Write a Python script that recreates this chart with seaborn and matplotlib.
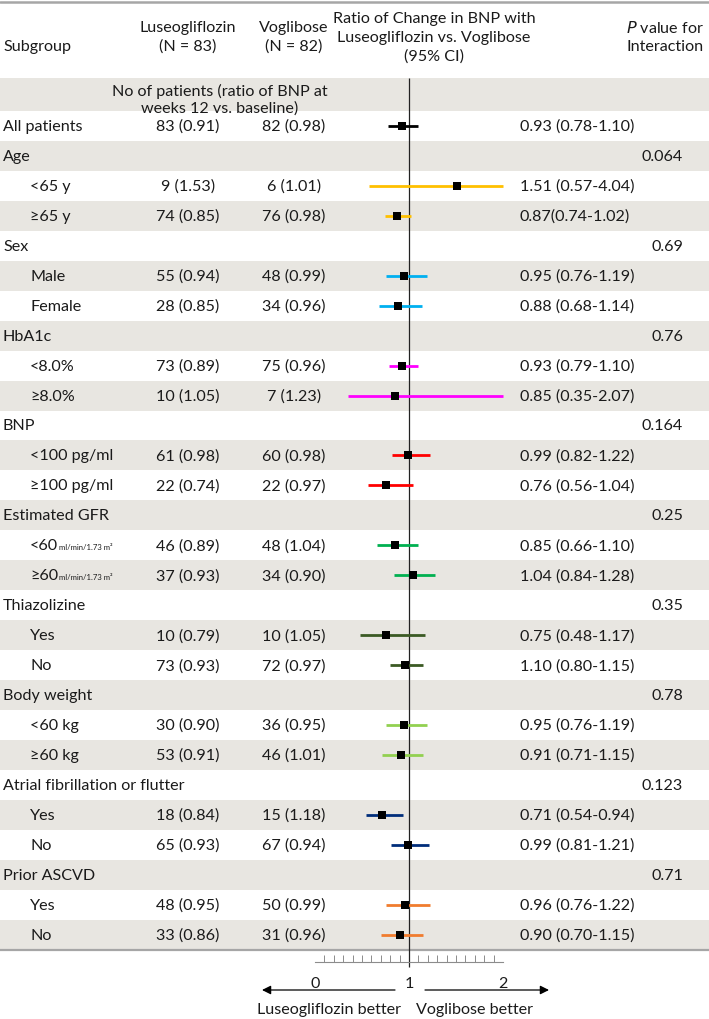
import matplotlib
matplotlib.use("Agg")
import matplotlib.pyplot as plt
import matplotlib.transforms as mtrans
import seaborn as sns
import pandas as pd
import numpy as np

# ---------------- data ----------------
row_labels = ["All patients", "Age", "<65 y", "≥65 y", "Sex", "Male", "Female",
              "HbA1c", "<8.0%", "≥8.0%", "BNP", "<100 pg/ml", "≥100 pg/ml",
              "Estimated GFR", "<60", "≥60", "Thiazolizine", "Yes", "No",
              "Body weight", "<60 kg", "≥60 kg", "Atrial fibrillation or flutter",
              "Yes", "No", "Prior ASCVD", "Yes", "No"]
group_rows = [1, 4, 7, 10, 13, 16, 19, 22, 25]
p_values = ["0.064", "0.69", "0.76", "0.164", "0.25", "0.35", "0.78", "0.123", "0.71"]

data_rows = [0, 2, 3, 5, 6, 8, 9, 11, 12, 14, 15, 17, 18, 20, 21, 23, 24, 26, 27]
luseo_n = [83, 9, 74, 55, 28, 73, 10, 61, 22, 46, 37, 10, 73, 30, 53, 18, 65, 48, 33]
luseo_r = ["0.91", "1.53", "0.85", "0.94", "0.85", "0.89", "1.05", "0.98", "0.74", "0.89",
           "0.93", "0.79", "0.93", "0.90", "0.91", "0.84", "0.93", "0.95", "0.86"]
vogli_n = [82, 6, 76, 48, 34, 75, 7, 60, 22, 48, 34, 10, 72, 36, 46, 15, 67, 50, 31]
vogli_r = ["0.98", "1.01", "0.98", "0.99", "0.96", "0.96", "1.23", "0.98", "0.97", "1.04",
           "0.90", "1.05", "0.97", "0.95", "1.01", "1.18", "0.94", "0.99", "0.96"]
est_text = ["0.93", "1.51", "0.87", "0.95", "0.88", "0.93", "0.85", "0.99", "0.76", "0.85",
            "1.04", "0.75", "1.10", "0.95", "0.91", "0.71", "0.99", "0.96", "0.90"]
est_plot = [0.93, 1.51, 0.87, 0.95, 0.88, 0.93, 0.85, 0.99, 0.76, 0.85,
            1.04, 0.75, 0.96, 0.95, 0.91, 0.71, 0.99, 0.96, 0.90]
ci_lo = [0.78, 0.57, 0.74, 0.76, 0.68, 0.79, 0.35, 0.82, 0.56, 0.66,
         0.84, 0.48, 0.80, 0.76, 0.71, 0.54, 0.81, 0.76, 0.70]
ci_hi = [1.10, 4.04, 1.02, 1.19, 1.14, 1.10, 2.07, 1.22, 1.04, 1.10,
         1.28, 1.17, 1.15, 1.19, 1.15, 0.94, 1.21, 1.22, 1.15]
ci_sep = [" ", " ", "", " ", " ", " ", " ", " ", " ", " ",
          " ", " ", " ", " ", " ", " ", " ", " ", " "]
row_colors = ["#000000", "#FFC000", "#FFC000", "#00B0F0", "#00B0F0", "#FF00FF", "#FF00FF",
              "#FF0000", "#FF0000", "#00B050", "#00B050", "#3B5A24", "#3B5A24",
              "#92D050", "#92D050", "#002D7A", "#002D7A", "#F07C2E", "#F07C2E"]
axis_ticks = [0, 1, 2]

# ---------------- layout ----------------
W, H = 709, 1020
PX_UNIT = 94.0      # pixels per ratio unit
X_ONE = 409.0       # pixel x of ratio = 1
ROW0 = 127.0        # pixel y of first row
ROWH = 29.95        # row height px

sns.set_theme(style="white")
plt.rcParams['font.family'] = ['Lato', 'DejaVu Sans']
TXT = "#1a1a1a"
FS = 11.6

fig = plt.figure(figsize=(W / 100, H / 100), dpi=100)
ax = fig.add_axes([0, 0, 1, 1])
ax.set_xlim(1 - X_ONE / PX_UNIT, 1 + (W - X_ONE) / PX_UNIT)
ax.set_ylim((H - ROW0) / ROWH, -ROW0 / ROWH)
ax.axis("off")

def py(pix):
    return (pix - ROW0) / ROWH

pix_x = mtrans.blended_transform_factory(
    mtrans.Affine2D().scale(1 / W, 1) + ax.transAxes, ax.transData)

# background bands
band = "#E8E6E1"
ax.axhspan(py(79), -0.5, color=band, lw=0, zorder=0)
for i in range(len(row_labels)):
    if i % 2 == 1:
        ax.axhspan(i - 0.5, i + 0.5, color=band, lw=0, zorder=0)

# top and bottom rules
ax.axhline(py(3), color="#A6A6A6", lw=1.8, zorder=1)
ax.axhline(len(row_labels) - 0.5, color="#A6A6A6", lw=1.6, zorder=1)

# reference line
ax.vlines(1, py(79), py(968), color="#222222", lw=0.9, zorder=2)

# header
hdr_kw = dict(transform=pix_x, fontsize=FS, color=TXT, va="center")
ax.text(3, py(47), "Subgroup", ha="left", **hdr_kw)
ax.text(188, py(28), "Luseogliflozin", ha="center", **hdr_kw)
ax.text(188, py(47), "(N = 83)", ha="center", **hdr_kw)
ax.text(294, py(28), "Voglibose", ha="center", **hdr_kw)
ax.text(294, py(47), "(N = 82)", ha="center", **hdr_kw)
ax.text(434, py(19), "Ratio of Change in BNP with", ha="center", **hdr_kw)
ax.text(434, py(38), "Luseogliflozin vs. Voglibose", ha="center", **hdr_kw)
ax.text(434, py(57), "(95% CI)", ha="center", **hdr_kw)
ax.text(704, py(28), r"$\it{P}$ value for", ha="right", **hdr_kw)
ax.text(704, py(47), "Interaction", ha="right", **hdr_kw)
ax.text(220, py(91), "No of patients (ratio of BNP at", ha="center", **hdr_kw)
ax.text(220, py(109), "weeks 12 vs. baseline)", ha="center", **hdr_kw)

# row labels
for i, lab in enumerate(row_labels):
    indent = 3 if (i in group_rows or i == 0) else 30
    ax.text(indent, i, lab, ha="left", **hdr_kw)
    if lab in ("<60", "≥60"):
        ax.text(indent + 29, i + 0.04, "ml/min/1.73 m²", ha="left",
                transform=pix_x, fontsize=5.6, color=TXT, va="center")

for g, p in zip(group_rows, p_values):
    ax.text(683, g, p, ha="right", **hdr_kw)

for k, r in enumerate(data_rows):
    ax.text(188, r, f"{luseo_n[k]} ({luseo_r[k]})", ha="center", **hdr_kw)
    ax.text(294, r, f"{vogli_n[k]} ({vogli_r[k]})", ha="center", **hdr_kw)
    ax.text(520, r, f"{est_text[k]}{ci_sep[k]}({ci_lo[k]:.2f}-{ci_hi[k]:.2f})",
            ha="left", **hdr_kw)

# forest marks
df = pd.DataFrame({"row": data_rows, "est": est_plot, "lo": ci_lo, "hi": ci_hi,
                   "color": row_colors})
df["hi_c"] = df["hi"].clip(upper=2.0)
for _, rr in df.iterrows():
    ax.hlines(rr["row"], rr["lo"], rr["hi_c"], color=rr["color"], lw=2.0, zorder=3)
sns.scatterplot(data=df, x="est", y="row", marker="s", s=34, color="black",
                edgecolor="black", linewidth=0, ax=ax, zorder=4, legend=False)
ax.set_xlabel("")
ax.set_ylabel("")
ax.axis("off")

# bottom scale axis
x0 = X_ONE + (0 - 1) * PX_UNIT
x2 = X_ONE + (2 - 1) * PX_UNIT
ax2 = fig.add_axes([x0 / W, (H - 963) / H, (x2 - x0) / W, 6 / H])
ax2.set_xlim(0, 2)
ax2.patch.set_alpha(0)
for s in ("top", "left", "right"):
    ax2.spines[s].set_visible(False)
ax2.spines["bottom"].set_color("#8C8C8C")
ax2.spines["bottom"].set_linewidth(0.8)
ax2.set_yticks([])
ax2.set_xticks(axis_ticks)
ax2.set_xticklabels([str(t) for t in axis_ticks])
ax2.set_xticks(np.arange(0, 2.01, 0.1), minor=True)
ax2.tick_params(axis="x", which="both", direction="in", length=5, width=0.7,
                color="#8C8C8C", bottom=True, labelsize=FS, pad=10, labelcolor=TXT)
ax2.tick_params(axis="x", which="major", length=0)
ax2.grid(False)

# arrows and direction labels
def vx(pix):
    return 1 + (pix - X_ONE) / PX_UNIT
ax.annotate("", xy=(vx(262), py(991)), xytext=(vx(395), py(991)),
            arrowprops=dict(arrowstyle="-|>", color="black", lw=0.9,
                            mutation_scale=13, shrinkA=0, shrinkB=0))
ax.annotate("", xy=(vx(549), py(991)), xytext=(vx(425), py(991)),
            arrowprops=dict(arrowstyle="-|>", color="black", lw=0.9,
                            mutation_scale=13, shrinkA=0, shrinkB=0))
ax.text(329, py(1010), "Luseogliflozin better", ha="center", **hdr_kw)
ax.text(475, py(1010), "Voglibose better", ha="center", **hdr_kw)

fig.savefig("out.png", dpi=100)
